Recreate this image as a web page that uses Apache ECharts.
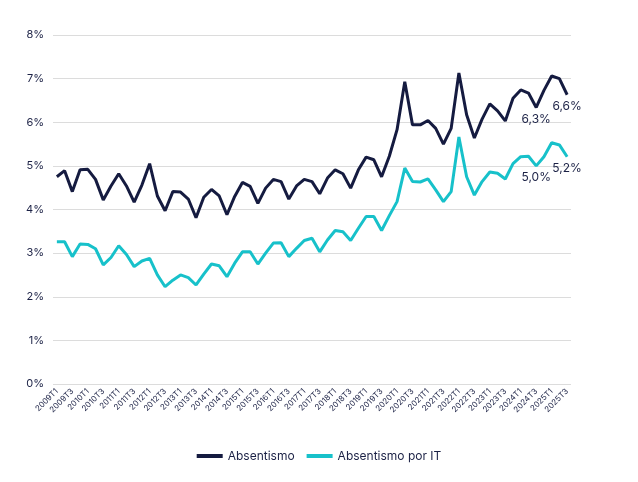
<!DOCTYPE html>
<html>
<head>
<meta charset="utf-8">
<script src="https://cdn.jsdelivr.net/npm/echarts@6/dist/echarts.min.js"></script>
<style>
html,body{margin:0;padding:0;background:#fff;}
#chart{width:638px;height:482px;}
</style>
</head>
<body>
<div id="chart"></div>
<script>
var categories = [
"2009T1","2009T2","2009T3","2009T4","2010T1","2010T2","2010T3","2010T4",
"2011T1","2011T2","2011T3","2011T4","2012T1","2012T2","2012T3","2012T4",
"2013T1","2013T2","2013T3","2013T4","2014T1","2014T2","2014T3","2014T4",
"2015T1","2015T2","2015T3","2015T4","2016T1","2016T2","2016T3","2016T4",
"2017T1","2017T2","2017T3","2017T4","2018T1","2018T2","2018T3","2018T4",
"2019T1","2019T2","2019T3","2019T4","2020T1","2020T2","2020T3","2020T4",
"2021T1","2021T2","2021T3","2021T4","2022T1","2022T2","2022T3","2022T4",
"2023T1","2023T2","2023T3","2023T4","2024T1","2024T2","2024T3","2024T4",
"2025T1","2025T2","2025T3"
];

var absentismo = [
4.75,4.89,4.41,4.91,4.92,4.69,4.22,4.54,
4.82,4.54,4.17,4.56,5.05,4.31,3.97,4.41,
4.40,4.24,3.81,4.28,4.46,4.31,3.88,4.30,
4.62,4.53,4.14,4.49,4.69,4.64,4.24,4.54,
4.69,4.64,4.36,4.72,4.91,4.82,4.49,4.91,
5.20,5.14,4.75,5.22,5.83,6.93,5.94,5.94,
6.04,5.86,5.50,5.86,7.13,6.17,5.64,6.07,
6.42,6.26,6.03,6.55,6.74,6.67,6.34,6.73,
7.06,7.00,6.63
];

var absentismoIT = [
3.26,3.26,2.92,3.21,3.20,3.10,2.73,2.90,
3.17,2.97,2.69,2.82,2.88,2.50,2.23,2.38,
2.50,2.44,2.27,2.52,2.75,2.71,2.46,2.77,
3.03,3.03,2.75,3.00,3.23,3.24,2.92,3.11,
3.29,3.34,3.03,3.30,3.52,3.49,3.29,3.57,
3.84,3.84,3.52,3.86,4.18,4.95,4.64,4.63,
4.70,4.45,4.18,4.41,5.66,4.75,4.33,4.64,
4.86,4.83,4.70,5.05,5.21,5.22,5.00,5.21,
5.53,5.48,5.21
];

var labelledIndices = [62, 66];

var seriesNames = ["Absentismo", "Absentismo por IT"];
var yTicks = [0, 8, 1];

var NAVY = "#151b40";
var CYAN = "#17c1ca";
var TEXT = "#1b2145";
var FONT = "Inter, Roboto, 'DejaVu Sans', sans-serif";

function withLabels(arr) {
  return arr.map(function (v, i) {
    if (labelledIndices.indexOf(i) >= 0) {
      return {
        value: v,
        label: {
          show: true,
          position: "bottom",
          distance: 6,
          color: TEXT,
          fontFamily: FONT,
          fontSize: 12,
          formatter: function (p) { return p.value.toFixed(1).replace(".", ",") + "%"; }
        }
      };
    }
    return v;
  });
}

var chart = echarts.init(document.getElementById("chart"), null, {renderer: "canvas"});
chart.setOption({
  animation: false,
  backgroundColor: "#ffffff",
  textStyle: {fontFamily: FONT},
  grid: {left: 53, right: 67, top: 35, bottom: 98, containLabel: false},
  legend: {
    bottom: 15,
    left: "center",
    itemWidth: 26,
    itemHeight: 4,
    itemGap: 12,
    icon: "rect",
    textStyle: {color: TEXT, fontSize: 12, fontFamily: FONT},
    data: seriesNames
  },
  xAxis: {
    type: "category",
    data: categories,
    boundaryGap: true,
    axisLine: {show: false},
    axisTick: {show: false},
    axisLabel: {
      interval: 1,
      rotate: 45,
      fontSize: 8,
      color: TEXT,
      fontFamily: FONT,
      margin: 6
    }
  },
  yAxis: {
    type: "value",
    min: yTicks[0],
    max: yTicks[1],
    interval: yTicks[2],
    axisLine: {show: false},
    axisTick: {show: false},
    splitLine: {lineStyle: {color: "#dcdcdc", width: 1}},
    axisLabel: {
      formatter: "{value}%",
      color: TEXT,
      fontSize: 11,
      fontFamily: FONT,
      margin: 9
    }
  },
  series: [
    {
      name: seriesNames[0],
      type: "line",
      data: withLabels(absentismo),
      showSymbol: true,
      symbol: "circle",
      symbolSize: 0,
      color: NAVY,
      lineStyle: {color: NAVY, width: 3},
      itemStyle: {color: NAVY},
      z: 3
    },
    {
      name: seriesNames[1],
      type: "line",
      data: withLabels(absentismoIT),
      showSymbol: true,
      symbol: "circle",
      symbolSize: 0,
      color: CYAN,
      lineStyle: {color: CYAN, width: 3},
      itemStyle: {color: CYAN},
      z: 2
    }
  ]
});
</script>
</body>
</html>
